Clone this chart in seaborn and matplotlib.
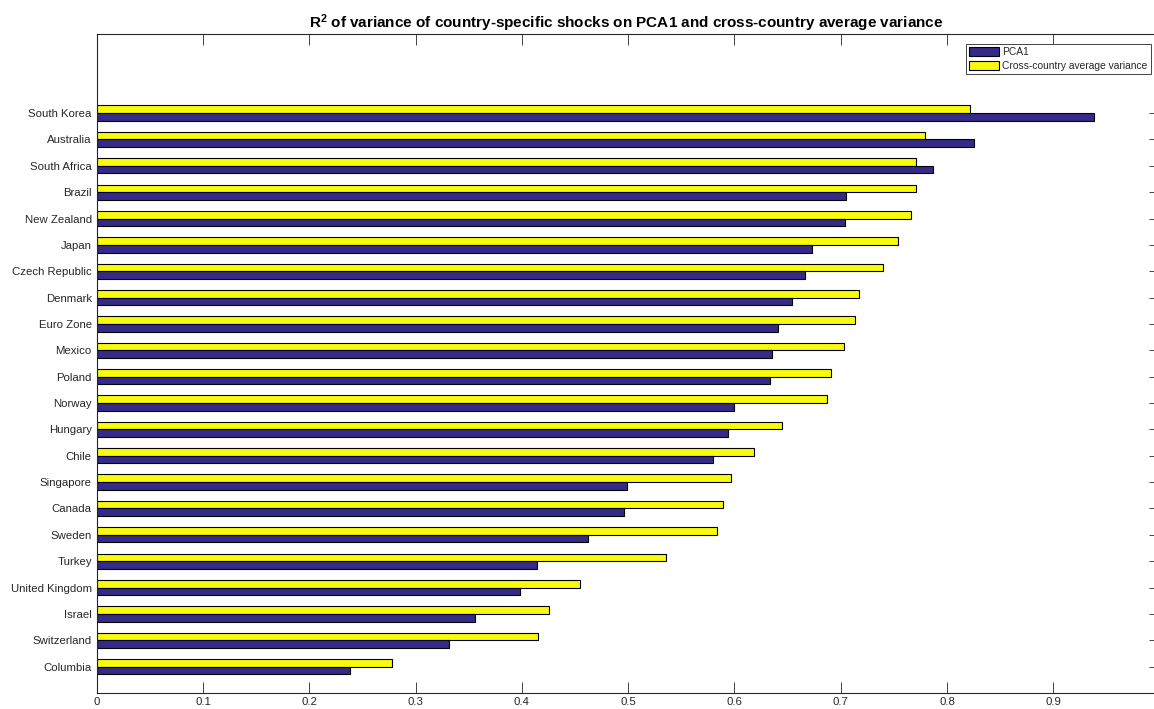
import matplotlib
matplotlib.use("Agg")
import matplotlib.pyplot as plt
from matplotlib.patches import Patch
import pandas as pd
import seaborn as sns

countries = [
    "South Korea", "Australia", "South Africa", "Brazil", "New Zealand", "Japan",
    "Czech Republic", "Denmark", "Euro Zone", "Mexico", "Poland", "Norway",
    "Hungary", "Chile", "Singapore", "Canada", "Sweden", "Turkey",
    "United Kingdom", "Israel", "Switzerland", "Columbia",
]
pca1 = [
    0.938, 0.825, 0.787, 0.705, 0.704, 0.673,
    0.666, 0.654, 0.641, 0.635, 0.633, 0.600,
    0.594, 0.580, 0.499, 0.496, 0.462, 0.414,
    0.398, 0.356, 0.331, 0.238,
]
cross_avg = [
    0.822, 0.779, 0.771, 0.771, 0.766, 0.754,
    0.740, 0.717, 0.713, 0.703, 0.691, 0.687,
    0.645, 0.618, 0.597, 0.589, 0.584, 0.536,
    0.455, 0.426, 0.415, 0.278,
]
series_names = ["PCA1", "Cross-country average variance"]
x_ticks = [0, 0.1, 0.2, 0.3, 0.4, 0.5, 0.6, 0.7, 0.8, 0.9]
x_tick_labels = ["0", "0.1", "0.2", "0.3", "0.4", "0.5", "0.6", "0.7", "0.8", "0.9"]

BLUE = "#352A87"
YELLOW = "#F9FB0E"
AXIS = "#262626"

sns.set_theme(style="white")
plt.rcParams["font.family"] = ["Liberation Sans", "DejaVu Sans"]
plt.rcParams["mathtext.fontset"] = "custom"
plt.rcParams["mathtext.rm"] = "Liberation Sans"
plt.rcParams["mathtext.bf"] = "Liberation Sans:bold"

df = pd.DataFrame({
    "country": countries * 2,
    "value": pca1 + cross_avg,
    "series": [series_names[0]] * len(countries) + [series_names[1]] * len(countries),
})

W, H = 1154, 709
fig = plt.figure(figsize=(W / 100, H / 100), dpi=100)
# the axes box runs from 0 to 1 on x; its right edge sits just past the figure
left, right, top, bottom = 96.7, 1159.6, 34, 693
ax = fig.add_axes([left / W, 1 - bottom / H, (right - left) / W, (bottom - top) / H])

sns.barplot(
    data=df, y="country", x="value", hue="series",
    hue_order=[series_names[1], series_names[0]],
    palette=[YELLOW, BLUE], saturation=1, width=0.58, gap=0,
    orient="h", edgecolor="black", linewidth=0.8, legend=False, ax=ax,
)

ax.set_xlim(0, 1)
ax.set_ylim(22, -3)
ax.set_xlabel("")
ax.set_ylabel("")
ax.set_xticks(x_ticks)
ax.set_xticklabels(x_tick_labels)

for s in ax.spines.values():
    s.set_color(AXIS)
    s.set_linewidth(0.8)

ax.tick_params(axis="x", which="both", direction="in", top=True, bottom=True,
               length=8, width=0.6, color=AXIS, labelsize=8.2,
               labelcolor=AXIS, pad=3.2)
ax.tick_params(axis="y", which="both", direction="in", left=False, right=True,
               labelleft=True, length=8, width=0.6, color=AXIS,
               labelsize=8.2, labelcolor=AXIS, pad=3.5)

ax.set_title(r"$\mathbf{R^2}$ of variance of country-specific shocks on PCA1 and cross-country average variance",
             fontsize=11, fontweight="bold", color="black", pad=4.5,
             x=(626 - left) / (right - left))

handles = [
    Patch(facecolor=BLUE, edgecolor="black", linewidth=0.8, label=series_names[0]),
    Patch(facecolor=YELLOW, edgecolor="black", linewidth=0.8, label=series_names[1]),
]
leg = ax.legend(
    handles=handles, loc="upper right",
    bbox_to_anchor=(1150.7 / W, 1 - 43.5 / H), bbox_transform=fig.transFigure,
    borderaxespad=0, fontsize=7.35, frameon=True, fancybox=False,
    handlelength=3.0, handleheight=1.0, handletextpad=0.3,
    borderpad=0.3, labelspacing=0.45,
)
leg.get_frame().set_edgecolor(AXIS)
leg.get_frame().set_linewidth(0.6)
leg.get_frame().set_facecolor("white")
leg.get_frame().set_alpha(1)

fig.savefig("out.png", dpi=100)
